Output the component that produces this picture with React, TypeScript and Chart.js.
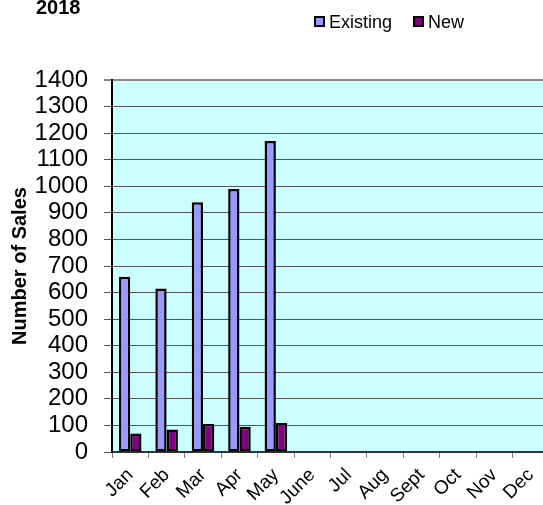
import React, { useEffect, useRef } from "react";
import { Chart, registerables } from "chart.js";

Chart.register(...registerables);

const months = ["Jan", "Feb", "Mar", "Apr", "May", "June", "Jul", "Aug", "Sept", "Oct", "Nov", "Dec"];
const existingSales = [660, 615, 940, 990, 1170, null, null, null, null, null, null, null];
const newSales = [70, 85, 105, 95, 110, null, null, null, null, null, null, null];
const yTicks = [0, 100, 200, 300, 400, 500, 600, 700, 800, 900, 1000, 1100, 1200, 1300, 1400];
const titleText = "2018";
const yTitle = "Number of Sales";

const FONT = "'Liberation Sans', Arial, sans-serif";

const bgPlugin = {
  id: "plotBg",
  beforeDraw(chart: any) {
    const { ctx, chartArea } = chart;
    ctx.save();
    ctx.fillStyle = "#CCFFFF";
    ctx.fillRect(chartArea.left, chartArea.top, chartArea.right - chartArea.left, chartArea.bottom - chartArea.top);
    ctx.restore();
  },
};

const headerPlugin = {
  id: "header",
  afterDraw(chart: any) {
    const { ctx } = chart;
    ctx.save();
    ctx.fillStyle = "#000";
    ctx.font = `bold 20px ${FONT}`;
    ctx.textBaseline = "alphabetic";
    ctx.textAlign = "left";
    ctx.fillText(titleText, 36, 14);

    // legend
    ctx.font = `18px ${FONT}`;
    const items = chart.data.datasets.map((d: any) => ({ label: d.label, color: d.backgroundColor }));
    let x = 315;
    items.forEach((it: any) => {
      ctx.fillStyle = it.color;
      ctx.fillRect(x, 17, 9, 9);
      ctx.strokeStyle = "#000";
      ctx.lineWidth = 2;
      ctx.strokeRect(x, 17, 9, 9);
      ctx.fillStyle = "#000";
      ctx.fillText(it.label, x + 14, 28);
      x += 14 + ctx.measureText(it.label).width + 22;
    });
    ctx.restore();
  },
};

export default function App() {
  const ref = useRef<HTMLCanvasElement>(null);
  useEffect(() => {
    if (!ref.current) return;
    const chart = new Chart(ref.current, {
      type: "bar",
      data: {
        labels: months,
        datasets: [
          {
            label: "Existing",
            data: existingSales,
            backgroundColor: "#9999FF",
            borderColor: "#000000",
            borderWidth: 2.5,
            borderSkipped: false,
          },
          {
            label: "New",
            data: newSales,
            backgroundColor: "#800080",
            borderColor: "#000000",
            borderWidth: 2.5,
            borderSkipped: false,
          },
        ],
      },
      options: {
        responsive: false,
        animation: false,
        layout: { padding: { left: 8, top: 80, right: 0, bottom: 0 } },
        categoryPercentage: 0.62,
        barPercentage: 1.0,
        plugins: {
          legend: { display: false },
          title: { display: false },
          tooltip: { enabled: false },
        },
        scales: {
          x: {
            afterFit(axis: any) {
              axis.height = 53;
              axis.paddingLeft = 0;
              axis.paddingRight = 0;
            },
            grid: {
              drawOnChartArea: false,
              drawTicks: true,
              tickLength: 6,
              color: "#808080",
              offset: true,
            },
            border: { color: "#333333", width: 2 },
            ticks: {
              color: "#000",
              font: { family: FONT, size: 19 },
              minRotation: 45,
              maxRotation: 45,
              autoSkip: false,
              padding: 6,
            },
          },
          y: {
            min: 0,
            max: 1400,
            afterBuildTicks(axis: any) {
              axis.ticks = yTicks.map((v) => ({ value: v }));
            },
            afterFit(axis: any) {
              axis.width = 104;
            },
            grid: {
              color: (c: any) => (c.tick && c.tick.value === 1400 ? "#888888" : "#555555"),
              lineWidth: (c: any) => (c.tick && c.tick.value === 1400 ? 2 : 1),
              tickLength: 8,
            },
            border: { color: "#000000", width: 2 },
            ticks: {
              color: "#000",
              font: { family: FONT, size: 24, lineHeight: 1 },
              autoSkip: false,
              padding: 16,
              callback: (v: any) => String(v),
            },
            title: {
              display: true,
              text: yTitle,
              color: "#000",
              font: { family: FONT, size: 20, weight: "bold", lineHeight: 1.2 },
              padding: { top: 0, bottom: 0 },
            },
          },
        },
      },
      plugins: [bgPlugin, headerPlugin],
    });
    return () => chart.destroy();
  }, []);
  return (
    <div style={{ position: "fixed", left: 0, top: 0, width: 543, height: 505, overflow: "hidden", background: "#fff" }}>
      <canvas ref={ref} width={549} height={505} style={{ display: "block", width: 549, height: 505 }} />
    </div>
  );
}
